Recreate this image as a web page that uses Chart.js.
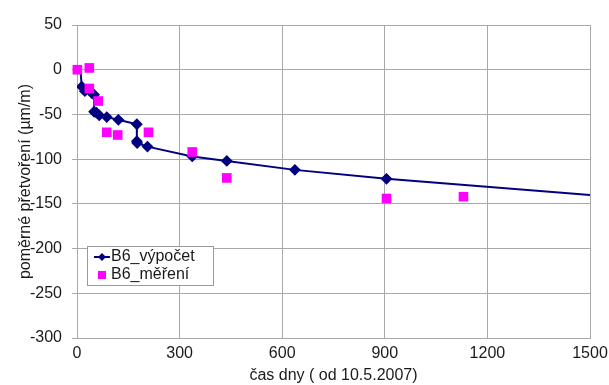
<!DOCTYPE html>
<html lang="cs">
<head>
    <meta charset="UTF-8">
    <title>B6 přetvoření</title>
    <script src="https://cdn.jsdelivr.net/npm/chart.js@4.4.1/dist/chart.umd.min.js"></script>
    <style>
        html, body { margin: 0; padding: 0; background: #fff; }
        #wrap { width: 609px; height: 385px; }
    </style>
</head>
<body>
<div id="wrap"><canvas id="c" width="609" height="385"></canvas></div>
<script>
// výpočet (line with diamonds)
const calcDays   = [10, 14, 23, 43, 50, 50, 57, 65, 87, 121, 175, 175, 176, 206, 337, 438, 637, 905, 1500];
const calcValues = [0, -19, -24, -26, -28, -47, -48, -51, -53, -56, -61, -80, -82, -86, -97, -102, -112, -122, -140];
const calcMarker = [false, true, true, true, true, true, true, true, true, true, true, true, true, true, true, true, true, true, false];

// měření (magenta squares)
const measDays   = [1, 36, 36, 62, 87, 119, 209, 337, 438, 905, 1130];
const measValues = [0, 2, -21, -35, -70, -73, -70, -92, -121, -144, -142];

const xTicks = [0, 300, 600, 900, 1200, 1500];
const yTicks = [50, 0, -50, -100, -150, -200, -250, -300];

const FONT = 'Liberation Sans, Arial, sans-serif';
const TXT = '#1a1a1a';

const legendBox = {
    id: 'legendBox',
    afterDraw(chart) {
        const ctx = chart.ctx;
        const x = 87, y = 246, w = 126, h = 39;
        ctx.save();
        ctx.fillStyle = '#fff';
        ctx.fillRect(x, y, w, h);
        ctx.strokeStyle = '#9a9a9a';
        ctx.lineWidth = 1;
        ctx.strokeRect(x + 0.5, y + 0.5, w, h);
        // entry 1
        ctx.strokeStyle = '#000080';
        ctx.lineWidth = 2;
        ctx.beginPath();
        ctx.moveTo(x + 7, y + 11);
        ctx.lineTo(x + 23, y + 11);
        ctx.stroke();
        ctx.fillStyle = '#000080';
        ctx.beginPath();
        ctx.moveTo(x + 15, y + 7);
        ctx.lineTo(x + 19, y + 11);
        ctx.lineTo(x + 15, y + 15);
        ctx.lineTo(x + 11, y + 11);
        ctx.closePath();
        ctx.fill();
        // entry 2
        ctx.fillStyle = '#ff00ff';
        ctx.fillRect(x + 11, y + 25, 8, 8);
        ctx.fillStyle = TXT;
        ctx.font = '16px ' + FONT;
        ctx.textBaseline = 'middle';
        ctx.fillText('B6_výpočet', x + 24, y + 11);
        ctx.fillText('B6_měření', x + 24, y + 29);
        ctx.restore();
    }
};

new Chart(document.getElementById('c'), {
    type: 'scatter',
    data: {
        datasets: [
            {
                label: 'B6_výpočet',
                data: calcDays.map((d, i) => ({ x: d, y: calcValues[i] })),
                showLine: true,
                borderColor: '#000080',
                backgroundColor: '#000080',
                borderWidth: 2,
                pointStyle: 'rectRot',
                pointRadius: calcDays.map((d, i) => calcMarker[i] ? 4.5 : 0),
                tension: 0,
                order: 1
            },
            {
                label: 'B6_měření',
                data: measDays.map((d, i) => ({ x: d, y: measValues[i] })),
                showLine: false,
                borderColor: '#ff00ff',
                backgroundColor: '#ff00ff',
                pointStyle: 'rect',
                pointRadius: 6.8,
                borderWidth: 0,
                clip: false,
                order: 0
            }
        ]
    },
    options: {
        responsive: false,
        animation: false,
        layout: { padding: { top: 25, right: 14, left: 0, bottom: 0 } },
        plugins: {
            legend: { display: false },
            tooltip: { enabled: false }
        },
        scales: {
            x: {
                type: 'linear',
                min: 0, max: 1500,
                afterBuildTicks(s) { s.ticks = xTicks.map(v => ({ value: v })); },
                afterFit(s) { s.height = 47; s.paddingRight = 19; },
                grid: { color: '#a8a8a8', lineWidth: 1, drawTicks: false },
                border: { color: '#a8a8a8' },
                ticks: { color: TXT, font: { family: FONT, size: 16 }, padding: 6, maxRotation: 0, callback: v => String(v) },
                title: { display: true, text: 'čas dny ( od 10.5.2007)', color: TXT, font: { family: FONT, size: 16 }, padding: { top: 0, bottom: 0 } }
            },
            y: {
                min: -300, max: 50,
                afterBuildTicks(s) { s.ticks = yTicks.map(v => ({ value: v })); },
                afterFit(s) { s.width = 77; },
                grid: { color: '#a8a8a8', lineWidth: 1, drawTicks: true, tickLength: 5 },
                border: { color: '#a8a8a8' },
                ticks: { color: TXT, font: { family: FONT, size: 16 }, padding: 10, callback: v => String(v) },
                title: { display: true, text: 'poměrné přetvoření (µm/m)', color: TXT, font: { family: FONT, size: 16 }, padding: { top: 16, bottom: 0 } }
            }
        }
    },
    plugins: [legendBox]
});
</script>
</body>
</html>
